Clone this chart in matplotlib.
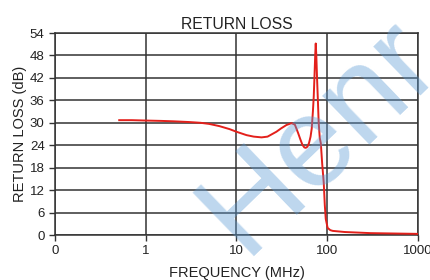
import numpy as np
import matplotlib.pyplot as plt

plt.rcParams['font.family'] = ['Liberation Sans', 'DejaVu Sans']

# (frequency in MHz, return loss in dB)
freq = np.array([0.51, 0.7, 1.0, 1.5, 2.0, 3.0, 4.0, 5.0, 6.5, 8.4, 10.0, 12.9,
                 15.5, 18.9, 22.0, 27.5, 31.0, 35.5, 40.4, 44.0, 47.7, 50.5,
                 53.3, 56.0, 58.0, 60.5, 63.0, 65.5, 67.5, 69.5, 71.0, 72.5,
                 73.8, 74.7, 75.8, 77.2, 78.6, 80.5, 82.7, 85.0, 88.0, 91.5,
                 94.0, 96.3, 101.0, 108.0, 115.0, 156.0, 300.0, 1000.0])
rl = np.array([30.7, 30.7, 30.6, 30.5, 30.4, 30.2, 30.0, 29.7, 29.1, 28.3, 27.6, 26.7,
               26.3, 26.1, 26.3, 27.6, 28.5, 29.4, 29.9, 29.5, 27.3, 25.6,
               24.1, 23.4, 23.3, 23.6, 24.6, 26.3, 28.5, 33.0, 37.0, 43.0,
               48.5, 51.2, 48.0, 42.0, 37.0, 30.0, 26.0, 24.5, 19.0, 14.0,
               8.0, 4.3, 1.9, 1.3, 1.1, 0.8, 0.5, 0.3])

yticks = np.arange(0, 55, 6)
xticks = [0.1, 1, 10, 100, 1000]
xticklabels = ['0', '1', '10', '100', '1000']

fig = plt.figure(figsize=(4.31, 2.80), dpi=100)
ax = fig.add_axes([0.1276, 0.1607, 0.8422, 0.7214])

ax.plot(freq, rl, color='#e3201b', lw=1.4, zorder=3)

ax.set_xscale('log')
ax.set_xlim(0.1, 1000)
ax.set_ylim(0, 54)
ax.set_xticks(xticks)
ax.set_xticklabels(xticklabels)
ax.xaxis.set_minor_locator(plt.NullLocator())
ax.set_yticks(yticks)
ax.grid(True, color='#333333', lw=1.1)
for s in ax.spines.values():
    s.set_color('#333333')
    s.set_linewidth(1.1)
ax.tick_params(colors='#333333', labelcolor='#222222', labelsize=9.5,
               length=4, width=1.0)

ax.set_title('RETURN LOSS', fontsize=11.3, color='#222222', pad=3)
ax.set_xlabel('FREQUENCY (MHz)', fontsize=10.5, color='#222222', labelpad=6)
ax.set_ylabel('RETURN LOSS (dB)', fontsize=10.5, color='#222222', labelpad=2)

# watermark
fig.text(0.566, 0.086, 'Henr', fontsize=92, color='#5b9bd5', alpha=0.4,
         family=['Liberation Sans Narrow', 'Liberation Sans'],
         rotation=44, rotation_mode='anchor', ha='left', va='baseline', zorder=10)

fig.savefig('out.png', dpi=100)
